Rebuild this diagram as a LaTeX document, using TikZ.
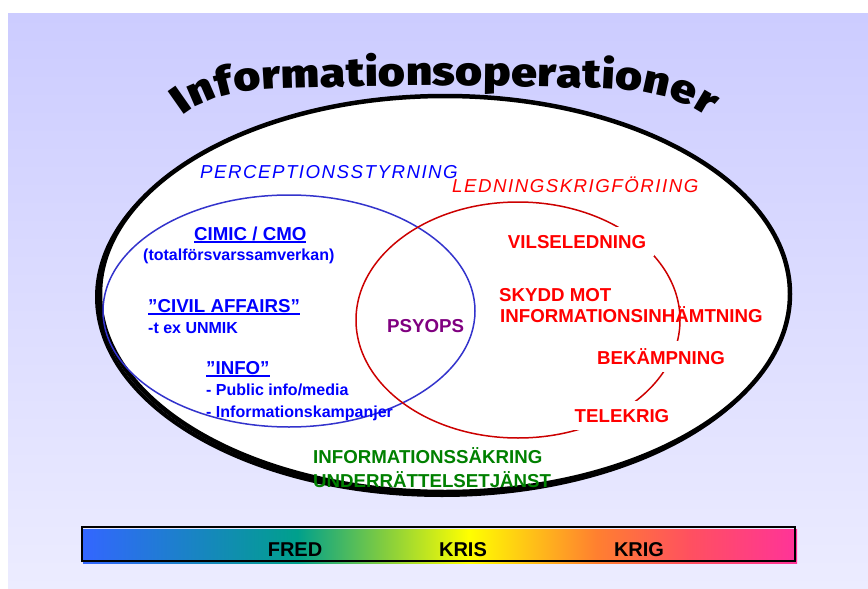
\documentclass[tikz,border=0pt]{standalone}
\usepackage{fontspec}
\setmainfont{Liberation Sans}
\IfFontExistsTF{Fira Sans Black}
  {\newfontfamily\titlefont[FakeStretch=1.15]{Fira Sans Black}\newcommand\titlesize{\fontsize{40}{40}\selectfont}}
  {\IfFontExistsTF{Fira Sans Heavy}
    {\newfontfamily\titlefont[FakeStretch=1.15]{Fira Sans Heavy}\newcommand\titlesize{\fontsize{40}{40}\selectfont}}
    {\IfFontExistsTF{Fira Sans ExtraBold}
      {\newfontfamily\titlefont[FakeStretch=1.15]{Fira Sans ExtraBold}\newcommand\titlesize{\fontsize{40}{40}\selectfont}}
      {\newfontfamily\titlefont[FakeBold=4]{Liberation Sans Bold}\newcommand\titlesize{\fontsize{44}{44}\selectfont}}}}
\newfontfamily\hdrfont[LetterSpace=8]{Liberation Sans}
\usetikzlibrary{decorations.text}
\definecolor{bgtop}{RGB}{204,204,255}
\definecolor{bgbot}{RGB}{236,236,255}
\definecolor{txtblue}{RGB}{0,0,255}
\definecolor{lineblue}{RGB}{51,51,204}
\definecolor{linered}{RGB}{204,0,0}
\definecolor{txtred}{RGB}{255,0,0}
\definecolor{txtgreen}{RGB}{0,128,0}
\definecolor{txtpurple}{RGB}{128,0,128}
\definecolor{bc0}{RGB}{51,102,255}
\definecolor{bc1}{RGB}{0,160,140}
\definecolor{bc2}{RGB}{128,204,64}
\definecolor{bc3}{RGB}{255,255,0}
\definecolor{bc4}{RGB}{255,127,48}
\definecolor{bc5}{RGB}{255,80,96}
\definecolor{bc6}{RGB}{255,51,153}
\pgfdeclarehorizontalshading{barshade}{100bp}{color(0bp)=(bc0); color(25bp)=(bc0); color(40bp)=(bc1); color(46bp)=(bc2); color(52bp)=(bc3); color(61bp)=(bc4); color(67.5bp)=(bc5); color(75bp)=(bc6); color(100bp)=(bc6)}
\newcommand\ulbox[1]{\setbox0\hbox{#1}\rlap{\rule[-2.6pt]{\wd0}{1.9pt}}\box0}
\tikzset{
  lbl/.style={anchor=base west, inner sep=0pt, font=\bfseries\fontsize{18.7}{20}\selectfont},
  sml/.style={anchor=base west, inner sep=0pt, font=\bfseries\fontsize{16}{18}\selectfont},
  hdr/.style={anchor=base west, inner sep=0pt, font=\hdrfont\itshape\fontsize{18.7}{20}\selectfont},
  redlbl/.style={lbl, text=txtred},
  cover/.style={fill=white, inner sep=7.5pt, anchor=base},
  bartxt/.style={anchor=base, inner sep=0pt, font=\bfseries\fontsize{20}{22}\selectfont}
}
\begin{document}
\begin{tikzpicture}[x=1pt,y=-1pt]
\useasboundingbox (0,0) rectangle (868,589);
% background
\shade[top color=bgtop, bottom color=bgbot] (8,13) rectangle (868,589);
% outer ellipse with shadow
\draw[line width=4pt, black] (442,297) ellipse [x radius=345, y radius=198];
\draw[line width=4.5pt, black, fill=white] (445,294) ellipse [x radius=345, y radius=198];
% title
\path[decorate, decoration={text along path, text align={fit to path},
  text={|\titlefont\titlesize|Informationsoperationer}}]
  (183,116) .. controls (205,98) and (237,89) .. (292,88)
  .. controls (390,85) and (490,85) .. (590,88)
  .. controls (645,89) and (681,98) .. (708,117);
% inner ellipses
\draw[line width=1.5pt, lineblue] (289,311) ellipse [x radius=186, y radius=116];
\draw[line width=1.5pt, linered] (518,320) ellipse [x radius=162, y radius=118];
% headers
\node[hdr, text=txtblue] (perc) at (200,178) {PERCEPTIONSSTYRNING};
\node[hdr, text=txtred] (ledn) at (452,192) {LEDNINGSKRIGFÖRIING};
% left (blue) items
\node[lbl, text=txtblue] (cimic) at (194,240) {\ulbox{CIMIC / CMO}};
\node[sml, text=txtblue] (total) at (143,260) {(totalförsvarssamverkan)};
\node[lbl, text=txtblue] (civil) at (148,312) {\ulbox{”CIVIL AFFAIRS”}};
\node[sml, text=txtblue] (unmik) at (148,333) {-t ex UNMIK};
\node[lbl, text=txtblue] (info) at (206,374) {\ulbox{”INFO”}};
\node[sml, text=txtblue] (pub) at (206,395) {- Public info/media};
\node[sml, text=txtblue] (kamp) at (206,417) {- Informationskampanjer};
% centre
\node[lbl, text=txtpurple] (psy) at (387,332) {PSYOPS};
% right (red) items
\node[redlbl, cover] (vils) at (577,248) {VILSELEDNING};
\node[redlbl] (skydd) at (499,301) {SKYDD MOT};
\node[redlbl] (inh) at (500,322) {INFORMATIONSINHÄMTNING};
\node[redlbl, cover] (bek) at (661,364) {BEKÄMPNING};
\node[redlbl, cover] (tele) at (622,422) {TELEKRIG};
% bottom (green)
\node[lbl, text=txtgreen] (isak) at (313,463) {INFORMATIONSSÄKRING};
\node[lbl, text=txtgreen] (undr) at (313,487) {UNDERRÄTTELSETJÄNST};
% scale bar
\shade[shading=barshade] (83,529) rectangle (797,563);
\draw[line width=1.8pt, black] (82,527) rectangle (795,561);
\node[bartxt] (fred) at (295,556) {FRED};
\node[bartxt] (kris) at (463,556) {KRIS};
\node[bartxt] (krig) at (639,556) {KRIG};
\end{tikzpicture}
\end{document}
